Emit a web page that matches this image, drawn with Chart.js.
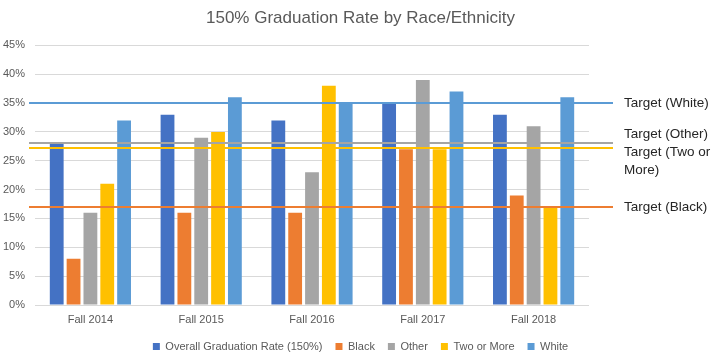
<!DOCTYPE html>
<html><head><meta charset="utf-8">
<script src="https://cdn.jsdelivr.net/npm/chart.js@4/dist/chart.umd.min.js"></script>
<style>html,body{margin:0;padding:0;background:#fff}#wrap{width:721px;height:357px}</style>
</head><body><div id="wrap"><canvas id="c" width="721" height="357"></canvas></div>
<script>
const categories = ['Fall 2014','Fall 2015','Fall 2016','Fall 2017','Fall 2018'];
const seriesNames = ['Overall Graduation Rate (150%)','Black','Other','Two or More','White'];
const overall = [28,33,32,35,33];
const black = [8,16,16,27,19];
const other = [16,29,23,39,31];
const twoOrMore = [21,30,38,27,17];
const white = [32,36,35,37,36];
const targetLabels = [['Target (White)'],['Target (Other)'],['Target (Two or','More)'],['Target (Black)']];
const targetValues = [35,28,27.2,17];
const yTickValues = [0,5,10,15,20,25,30,35,40,45];

const colors = ['#4472C4','#ED7D31','#A5A5A5','#FFC000','#5B9BD5'];
const targetColors = ['#5B9BD5','#A5A5A5','#FFC000','#ED7D31'];
const targetLabelOffsets = [0,-9,4,0];
const FONT = "'Liberation Sans', Arial, sans-serif";

const targetPlugin = {
  id:'targets',
  afterDatasetsDraw(chart){
    const ctx = chart.ctx, y = chart.scales.y, a = chart.chartArea;
    ctx.save();
    targetValues.forEach((v,i)=>{
      const py = Math.round(y.getPixelForValue(v));
      ctx.strokeStyle = targetColors[i];
      ctx.lineWidth = 2;
      ctx.beginPath();
      ctx.moveTo(a.left-6, py);
      ctx.lineTo(a.right+24, py);
      ctx.stroke();
      ctx.fillStyle = '#262626';
      ctx.font = "13.5px " + FONT;
      ctx.textBaseline = 'middle';
      ctx.textAlign = 'left';
      targetLabels[i].forEach((t,j)=>{
        ctx.fillText(t, a.right+35, py + targetLabelOffsets[i] + j*18);
      });
    });
    ctx.restore();
  }
};

const seriesData = [overall,black,other,twoOrMore,white];
new Chart(document.getElementById('c'),{
  type:'bar',
  data:{
    labels:categories,
    datasets: seriesData.map((d,i)=>({
      label:seriesNames[i], data:d, backgroundColor:colors[i], borderWidth:0,
      barPercentage:0.82, categoryPercentage:0.76, yAxisID:'y'
    }))
  },
  options:{
    responsive:false, animation:false, devicePixelRatio:1,
    layout:{padding:{left:0,right:0,top:0,bottom:-5}},
    plugins:{
      title:{display:true,text:'150% Graduation Rate by Race/Ethnicity',color:'#595959',
        font:{family:FONT,size:17,weight:'normal'},padding:{top:8,bottom:17}},
      legend:{position:'bottom',labels:{boxWidth:7,boxHeight:7,padding:13,color:'#595959',
        font:{family:FONT,size:11}}},
      tooltip:{enabled:false}
    },
    scales:{
      x:{grid:{display:false,drawTicks:false,tickLength:0},border:{display:false},
        afterFit(s){s.height=23;},
        ticks:{color:'#595959',font:{family:FONT,size:11},padding:8}},
      y:{min:0,max:45,afterFit(s){s.width=35;},
        afterBuildTicks(s){s.ticks=yTickValues.map(v=>({value:v}));},
        grid:{color:'#D9D9D9',drawTicks:false,lineWidth:1},border:{display:false},
        ticks:{color:'#595959',font:{family:FONT,size:11},padding:10,callback:v=>v+'%'}},
      yRight:{position:'right',display:true,afterFit(s){s.width=132;},
        grid:{display:false},border:{display:false},ticks:{display:false}}
    }
  },
  plugins:[targetPlugin]
});
</script></body></html>
